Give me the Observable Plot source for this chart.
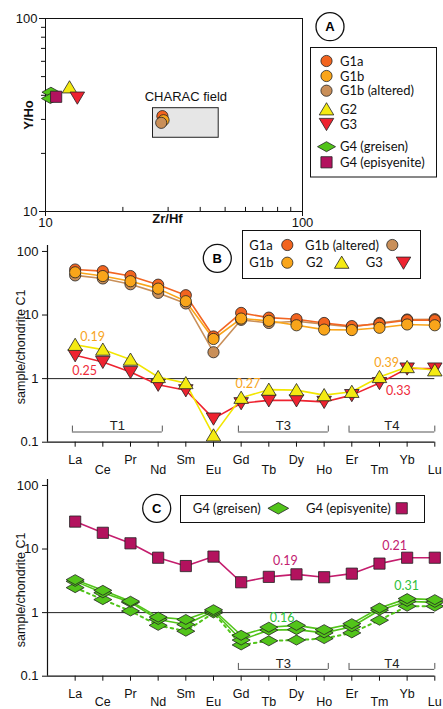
<!DOCTYPE html>
<html><head><meta charset="utf-8">
<script src="https://cdn.jsdelivr.net/npm/d3@7"></script>
<script src="https://cdn.jsdelivr.net/npm/@observablehq/plot@0.6"></script>
<style>
body{margin:0;background:#fff;}
#fig{position:relative;width:443px;height:709px;overflow:hidden;background:#fff;}
#fig svg{position:absolute;left:0;}
</style></head><body><div id="fig"></div>
<script>
// ---------------- DATA ----------------
const elements = ["La","Ce","Pr","Nd","Sm","Eu","Gd","Tb","Dy","Ho","Er","Tm","Yb","Lu"];

// Panel B (sample / chondrite C1)
const g1a    = [52, 49, 41, 30, 20.5, 4.6, 10.8, 9.1, 8.6, 7.5, 6.7, 7.3, 8.3, 8.3];
const g1b    = [47, 41, 34, 26, 16.5, 4.2, 8.8, 8.1, 6.9, 5.9, 5.8, 6.3, 7.1, 6.9];
const g1bAlt = [42, 37.6, 30.5, 22.3, 15.2, 2.6, 8.4, 7.5, 8.0, 7.2, 6.5, 7.5, 8.5, 8.6];
const g2     = [3.4, 2.86, 1.99, 1.06, 0.85, 0.128, 0.50, 0.67, 0.66, 0.55, 0.62, 1.06, 1.52, 1.35];
const g3     = [2.33, 1.83, 1.27, 0.80, 0.655, 0.235, 0.41, 0.455, 0.455, 0.43, 0.55, 0.85, 1.44, 1.44];

// Panel C
const greisen1   = [3.3, 2.24, 1.51, 0.85, 0.78, 1.11, 0.44, 0.59, 0.63, 0.54, 0.67, 1.18, 1.66, 1.6];
const greisen2   = [3.1, 2.05, 1.45, 0.78, 0.65, 1.05, 0.37, 0.53, 0.54, 0.48, 0.6, 1.09, 1.5, 1.45];
const greisen3   = [2.47, 1.6, 1.06, 0.63, 0.51, 0.99, 0.31, 0.36, 0.37, 0.39, 0.48, 0.76, 1.26, 1.26];
const episyenite = [27, 18, 12.3, 7.3, 5.4, 7.6, 3.0, 3.65, 4.0, 3.6, 4.1, 5.9, 7.3, 7.3];

// Panel A (Zr/Hf vs Y/Ho)
const aGroup = ["G4 (greisen)","G4 (greisen)","G4 (episyenite)","G2","G3","G1a","G1b","G1b (altered)"];
const aZrHf  = [10.5, 10.45, 11.0, 12.4, 13.3, 28.5, 28.8, 28.2];
const aYHo   = [41.5, 38.5, 39.3, 44.0, 38.9, 31.2, 29.7, 28.8];
const characZrHf = [26.2, 47.2];
const characYHo  = [24.1, 34.3];

// Tick values
const aMajorTicks = [10, 100];
const aMinorTicks = [20, 30, 40, 50, 60, 70, 80, 90];
const reeTicks = [0.1, 1, 10, 100];

// Element-group brackets
const bracketLabel = ["T1", "T3", "T4"];
const bracketFrom  = ["La", "Gd", "Er"];
const bracketTo    = ["Nd", "Ho", "Lu"];
const bracketLabelC = ["T3", "T4"];
const bracketFromC  = ["Gd", "Er"];
const bracketToC    = ["Ho", "Lu"];

// Ratio annotations (element position, value)
const bNoteText = ["0.19", "0.25", "0.27", "0.39", "0.33"];
const bNoteSeries = ["G2", "G3", "G2", "G2", "G3"];
const bNoteAt = [0.63, 0.34, 6.24, 11.26, 11.68];
const bNoteV  = [4.5, 1.32, 0.81, 1.76, 0.63];
const cNoteText = ["0.19", "0.21", "0.16", "0.31"];
const cNoteSeries = ["G4 (episyenite)", "G4 (episyenite)", "G4 (greisen)", "G4 (greisen)"];
const cNoteAt = [7.6, 11.55, 7.48, 11.98];
const cNoteV  = [6.5, 11.0, 0.82, 2.59];

// ---------------- STYLE ----------------
const font = "'Liberation Sans', Arial, sans-serif";
const lfont = "Lato, 'Liberation Sans', sans-serif";
const fills = {
  "G1a": "#f2641f", "G1b": "#f9a51a", "G1b (altered)": "#c98f59",
  "G2": "#f4ea12", "G3": "#ee2330",
  "G4 (greisen)": "#52c41a", "G4 (episyenite)": "#b3125e"
};
const lineColors = {
  "G1a": "#f26522", "G1b": "#f9a51a", "G1b (altered)": "#c98f59",
  "G2": "#f2e600", "G3": "#ee2330",
  "G4 (greisen)": "#52c41a", "G4 (episyenite)": "#c41d6d"
};
const noteColors = {
  "G2": "#f7a41c", "G3": "#ee2a3a",
  "G4 (greisen)": "#2fbf3c", "G4 (episyenite)": "#c2206f"
};

const triUp = {draw(ctx, size){const r=Math.sqrt(size/Math.PI); ctx.moveTo(0,-r); ctx.lineTo(r*1.1, r*0.85); ctx.lineTo(-r*1.1, r*0.85); ctx.closePath();}};
const triDown = {draw(ctx, size){const r=Math.sqrt(size/Math.PI); ctx.moveTo(0,r); ctx.lineTo(r*1.1, -r*0.85); ctx.lineTo(-r*1.1, -r*0.85); ctx.closePath();}};
const wideDiamond = {draw(ctx, size){const r=Math.sqrt(size/Math.PI); ctx.moveTo(-1.8*r,0); ctx.lineTo(0,-r); ctx.lineTo(1.8*r,0); ctx.lineTo(0,r); ctx.closePath();}};
const square = {draw(ctx, size){const r=Math.sqrt(size/Math.PI); ctx.moveTo(-r,-r); ctx.lineTo(r,-r); ctx.lineTo(r,r); ctx.lineTo(-r,r); ctx.closePath();}};
const symbols = {
  "G1a": d3.symbolCircle, "G1b": d3.symbolCircle, "G1b (altered)": d3.symbolCircle,
  "G2": triUp, "G3": triDown, "G4 (greisen)": wideDiamond, "G4 (episyenite)": square
};
const radii = {
  "G1a": 5.6, "G1b": 5.6, "G1b (altered)": 5.6, "G2": 6.6, "G3": 6.6,
  "G4 (greisen)": 5, "G4 (episyenite)": 5.6
};

const fig = document.getElementById("fig");
const idx = el => elements.indexOf(el);
const rows = vals => vals.map((v, i) => ({i, el: elements[i], v}));

function place(svg, top){ svg.style.position = "absolute"; svg.style.top = top + "px"; svg.style.left = "0px"; fig.appendChild(svg); }

// ---------------- PANEL A ----------------
const aPoints = aGroup.map((g, k) => ({g, x: aZrHf[k], y: aYHo[k]}));
const charac = [{x1: characZrHf[0], x2: characZrHf[1], y1: characYHo[0], y2: characYHo[1]}];
const plotA = Plot.plot({
  width: 443, height: 230,
  marginLeft: 45, marginRight: 141, marginTop: 18, marginBottom: 19,
  x: {type: "log", domain: [10, 100], label: null},
  y: {type: "log", domain: [10, 100], label: null},
  style: {background: "none", fontFamily: font, fontSize: "13px", color: "#111", overflow: "visible"},
  marks: [
    Plot.rect(charac, {x1: "x1", x2: "x2", y1: "y1", y2: "y2", fill: "#e6e6e6", stroke: "#222", strokeWidth: 1}),
    Plot.text(charac, {x: d => Math.sqrt(d.x1 * d.x2), y: "y2", text: () => "CHARAC field", dy: -11, fontSize: 13}),
    Plot.frame({stroke: "#111", strokeWidth: 1}),
    Plot.axisY({ticks: aMajorTicks, tickSize: 6, tickPadding: 2, tickFormat: d => String(d), label: null}),
    Plot.axisY({ticks: aMinorTicks, tickSize: 4, tickFormat: () => "", label: null}),
    Plot.axisX({ticks: aMajorTicks, tickSize: 5, tickPadding: 1, tickFormat: d => String(d), label: null}),
    Plot.ruleX(aMinorTicks, {x: d => d, y1: 10, y2: 10.5, stroke: "#111"}),
    Plot.text(["Y/Ho"], {frameAnchor: "left", text: d => d, rotate: -90, textAnchor: "middle", dx: -17, fontWeight: "bold", fontSize: 13}),
    Plot.text(["Zr/Hf"], {frameAnchor: "bottom", text: d => d, textAnchor: "middle", dx: -6.5, dy: 11, fontWeight: "bold", fontSize: 13}),
    ...aPoints.map(p => Plot.dot([p], {x: "x", y: "y", symbol: symbols[p.g], r: radii[p.g], fill: fills[p.g], stroke: "#222", strokeWidth: 0.8}))
  ]
});
place(plotA, 0);

// ---------------- REE PANELS ----------------
function reePanel({top, height, marginTop, lines, dots, brackets, bracketV, notes, labelDy, oddPad}) {
  const bTicks = brackets.flatMap(b => [b.x1, b.x2]);
  const plot = Plot.plot({
    width: 443, height,
    marginLeft: 47, marginRight: 8.7, marginTop, marginBottom: 33.3,
    x: {type: "linear", domain: [-1, 13], label: null},
    y: {type: "log", domain: [0.1, 124], label: null},
    style: {background: "none", fontFamily: font, fontSize: "12px", color: "#111", overflow: "visible"},
    marks: [
      Plot.ruleY([1], {stroke: "#222", strokeWidth: 1}),
      Plot.ruleY(brackets, {y: bracketV, x1: "x1", x2: "x2", stroke: "#555", strokeWidth: 1}),
      Plot.ruleX(bTicks, {x: d => d, y1: bracketV, y2: bracketV * 1.24, stroke: "#555", strokeWidth: 1}),
      Plot.text(brackets, {x: d => (d.x1 + d.x2) / 2, y: bracketV, text: "label", dy: -6, fontSize: 13, fill: "#222"}),
      Plot.ruleX([-1], {stroke: "#111", strokeWidth: 1.2}),
      Plot.ruleY([0.1], {stroke: "#111", strokeWidth: 1.2}),
      Plot.axisY({ticks: reeTicks, tickSize: 5, tickPadding: 4, tickFormat: d => String(d), label: null, fontSize: 13}),
      Plot.axisX({ticks: elements.map((e, i) => i).filter(i => i % 2 === 0), tickSize: 5, tickPadding: 7.5, tickFormat: i => elements[i], label: null, fontSize: 12.5}),
      Plot.axisX({ticks: elements.map((e, i) => i).filter(i => i % 2 === 1), tickSize: 5, tickPadding: oddPad, tickFormat: i => elements[i], label: null, fontSize: 12.5}),
      Plot.text(["sample/chondrite C1"], {frameAnchor: "left", text: d => d, rotate: -90, textAnchor: "middle", dx: -27, dy: labelDy, fontSize: 12.5}),
      ...lines.map(s => Plot.line(rows(s.values), {x: "i", y: "v", stroke: lineColors[s.group], strokeWidth: s.width ?? 1.6, strokeDasharray: s.dash})),
      ...dots.map(s => Plot.dot(rows(s.values), {x: "i", y: "v", symbol: symbols[s.group], r: radii[s.group], fill: fills[s.group], stroke: "#222", strokeWidth: 0.8})),
      ...notes.map(n => Plot.text([n], {x: "at", y: "v", text: "t", fill: noteColors[n.group], fontFamily: lfont, fontSize: 12.5}))
    ]
  });
  place(plot, top);
}

const mkBrackets = (labels, from, to) => labels.map((l, k) => ({label: l, x1: idx(from[k]) - 0.1, x2: Math.min(idx(to[k]) + 0.15, 13)}));

reePanel({
  top: 230, height: 245, marginTop: 15, bracketV: 0.1446, labelDy: 3, oddPad: 17.5,
  brackets: mkBrackets(bracketLabel, bracketFrom, bracketTo),
  lines: [
    {group: "G1b (altered)", values: g1bAlt},
    {group: "G1a", values: g1a},
    {group: "G1b", values: g1b},
    {group: "G3", values: g3},
    {group: "G2", values: g2}
  ],
  dots: [
    {group: "G1b (altered)", values: g1bAlt},
    {group: "G1a", values: g1a},
    {group: "G1b", values: g1b},
    {group: "G3", values: g3},
    {group: "G2", values: g2}
  ],
  notes: bNoteText.map((t, k) => ({t, group: bNoteSeries[k], at: bNoteAt[k], v: bNoteV[k]}))
});

reePanel({
  top: 474, height: 235, marginTop: 5, bracketV: 0.128, labelDy: 12, oddPad: 15.5,
  brackets: mkBrackets(bracketLabelC, bracketFromC, bracketToC),
  lines: [
    {group: "G4 (greisen)", values: greisen3, dash: "2.5,4", width: 2},
    {group: "G4 (greisen)", values: greisen2},
    {group: "G4 (greisen)", values: greisen1},
    {group: "G4 (episyenite)", values: episyenite}
  ],
  dots: [
    {group: "G4 (greisen)", values: greisen3},
    {group: "G4 (greisen)", values: greisen2},
    {group: "G4 (greisen)", values: greisen1},
    {group: "G4 (episyenite)", values: episyenite}
  ],
  notes: cNoteText.map((t, k) => ({t, group: cNoteSeries[k], at: cNoteAt[k], v: cNoteV[k]}))
});

// ---------------- OVERLAY: legends & panel badges ----------------
const ov = d3.select("#fig").append("svg").attr("width", 443).attr("height", 709)
  .style("position", "absolute").style("left", "0px").style("top", "0px");
function sym(x, y, g, rScale = 1) {
  ov.append("path").attr("d", d3.symbol(symbols[g], Math.PI * (radii[g] * rScale) ** 2)())
    .attr("transform", `translate(${x},${y})`).attr("fill", fills[g]).attr("stroke", "#222").attr("stroke-width", 0.8);
}
function txt(x, y, t) {
  ov.append("text").attr("x", x).attr("y", y).attr("dy", "0.35em")
    .attr("font-family", lfont).attr("font-size", 13).attr("fill", "#111").text(t);
}
function box(x, y, w, h) {
  ov.append("rect").attr("x", x).attr("y", y).attr("width", w).attr("height", h)
    .attr("fill", "#fff").attr("stroke", "#111").attr("stroke-width", 1);
}
function badge(x, y, letter) {
  ov.append("circle").attr("cx", x).attr("cy", y).attr("r", 14).attr("fill", "#fff").attr("stroke", "#111").attr("stroke-width", 1.3);
  ov.append("text").attr("x", x).attr("y", y).attr("dy", "0.36em").attr("text-anchor", "middle")
    .attr("font-family", font).attr("font-weight", "bold").attr("font-size", 13).text(letter);
}

// Legend A
const legA = ["G1a", "G1b", "G1b (altered)", "G2", "G3", "G4 (greisen)", "G4 (episyenite)"];
const legAy = [61, 76, 90.7, 109.3, 124, 146.7, 162.3];
box(310.5, 47.5, 126, 129.5);
legA.forEach((g, k) => { sym(326.5, legAy[k], g); txt(340, legAy[k], g); });
badge(330, 26.7, "A");

// Legend B
box(242.5, 230.5, 178, 48);
txt(249.3, 245, "G1a"); sym(287.3, 245, "G1a");
txt(305, 245, "G1b (altered)"); sym(392.3, 245, "G1b (altered)");
txt(249.3, 262.7, "G1b"); sym(287.3, 262.7, "G1b");
txt(306, 262.7, "G2"); sym(341.7, 262.7, "G2");
txt(365.7, 262.7, "G3"); sym(403.5, 262.7, "G3");
badge(217.3, 258.3, "B");

// Legend C
box(180.5, 495.5, 244, 27);
txt(192.7, 508.3, "G4 (greisen)"); sym(278.3, 508.3, "G4 (greisen)", 1.15);
txt(306, 508.3, "G4 (episyenite)"); sym(401.7, 508.3, "G4 (episyenite)");
badge(156.7, 508.3, "C");
</script></body></html>
